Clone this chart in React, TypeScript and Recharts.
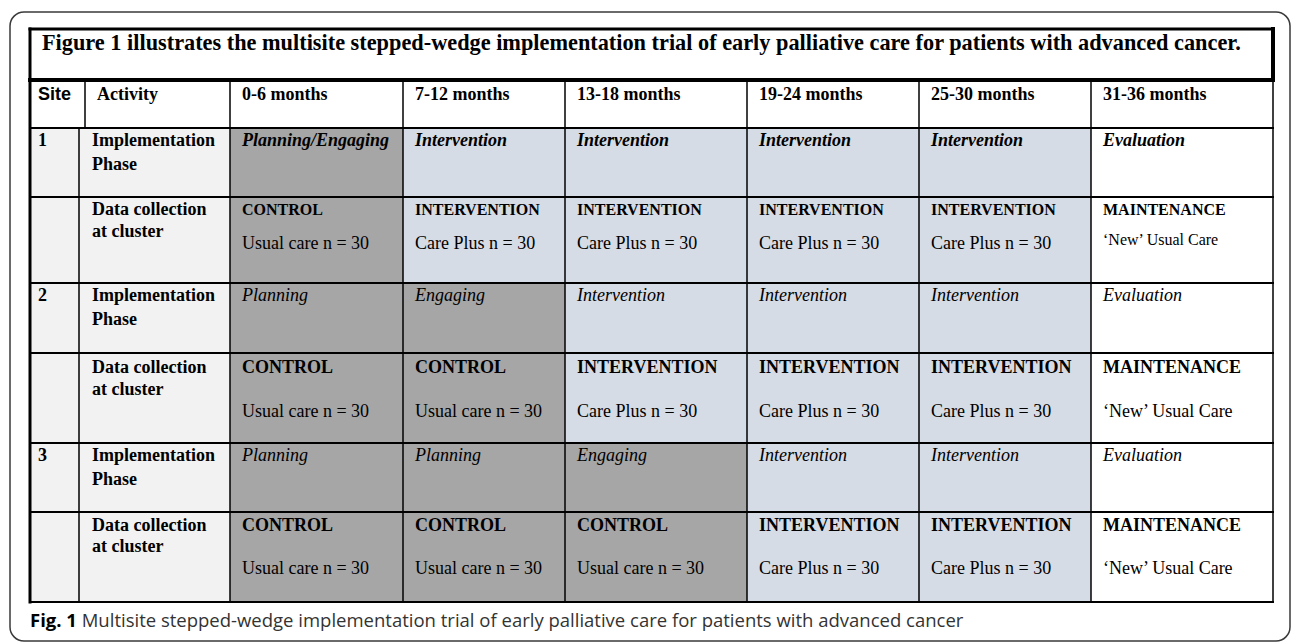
import React from 'react';
import { ComposedChart, XAxis, YAxis, ReferenceArea, ReferenceLine, Scatter } from 'recharts';

// ---------- content ----------
const title =
  'Figure 1 illustrates the multisite stepped-wedge implementation trial of early palliative care for patients with advanced cancer.';
const captionLead = 'Fig. 1';
const captionText =
  'Multisite stepped-wedge implementation trial of early palliative care for patients with advanced cancer';
const headerSite = 'Site';
const headerActivity = 'Activity';
const periods = ['0-6 months', '7-12 months', '13-18 months', '19-24 months', '25-30 months', '31-36 months'];
const sites = ['1', '2', '3'];
const activityImpl = ['Implementation', 'Phase'];
const activityData = ['Data collection', 'at cluster'];
const phasesSite1 = ['Planning/Engaging', 'Intervention', 'Intervention', 'Intervention', 'Intervention', 'Evaluation'];
const phasesSite2 = ['Planning', 'Engaging', 'Intervention', 'Intervention', 'Intervention', 'Evaluation'];
const phasesSite3 = ['Planning', 'Planning', 'Engaging', 'Intervention', 'Intervention', 'Evaluation'];
const armsSite1 = ['CONTROL', 'INTERVENTION', 'INTERVENTION', 'INTERVENTION', 'INTERVENTION', 'MAINTENANCE'];
const armsSite2 = ['CONTROL', 'CONTROL', 'INTERVENTION', 'INTERVENTION', 'INTERVENTION', 'MAINTENANCE'];
const armsSite3 = ['CONTROL', 'CONTROL', 'CONTROL', 'INTERVENTION', 'INTERVENTION', 'MAINTENANCE'];
const armDetail: Record<string, string> = {
  CONTROL: 'Usual care n = 30',
  INTERVENTION: 'Care Plus n = 30',
  MAINTENANCE: '\u2018New\u2019 Usual Care',
};

// ---------- layout & style (kept separate from content) ----------
const W = 1292;
const H = 643;
const COL = [30, 79, 230, 403, 565, 747, 919, 1091, 1273];
const HEADER_SPLIT = 85;
const TITLE_TOP = 29;
const TITLE_BOTTOM = 80;
const HEADER_BOTTOM = 128;
const ROWS = [128, 197, 283, 353, 443, 512, 602]; // impl/data row edges per site
const IMPL_L1 = [18, 18, 18];
const IMPL_L2 = [42, 42, 42];
const DATA_L1 = [18, 20, 19];
const DATA_L2 = [40, 42, 40];
const DATA_CARE = [52, 64, 62];

const DARK = '#a6a6a6';
const BLUE = '#d6dce5';
const LIGHT = '#f2f2f2';
const WHITE = '#ffffff';
const SERIF = '"Liberation Serif", "Times New Roman", serif';
const SANS = '"Liberation Sans", Arial, sans-serif';
const CAPTION_FONT = '"Open Sans", "Noto Sans", sans-serif';

const phaseFill = (p: string) => (p === 'Intervention' ? BLUE : p === 'Evaluation' ? WHITE : DARK);
const armFill = (a: string) => (a === 'INTERVENTION' ? BLUE : a === 'MAINTENANCE' ? WHITE : DARK);

const phases = [phasesSite1, phasesSite2, phasesSite3];
const arms = [armsSite1, armsSite2, armsSite3];

type Cell = { x1: number; x2: number; y1: number; y2: number; fill: string };
type Txt = {
  x: number;
  y: number;
  text: string;
  size: number;
  weight?: string;
  italic?: boolean;
  family?: string;
  color?: string;
  lead?: string;
};

const cells: Cell[] = [];
cells.push({ x1: COL[0], x2: COL[2], y1: HEADER_BOTTOM, y2: ROWS[6], fill: LIGHT });
sites.forEach((_, s) => {
  const iTop = ROWS[s * 2];
  const dTop = ROWS[s * 2 + 1];
  const dBot = ROWS[s * 2 + 2];
  periods.forEach((__, c) => {
    cells.push({ x1: COL[c + 2], x2: COL[c + 3], y1: iTop, y2: dTop, fill: phaseFill(phases[s][c]) });
    cells.push({ x1: COL[c + 2], x2: COL[c + 3], y1: dTop, y2: dBot, fill: armFill(arms[s][c]) });
  });
});

const texts: Txt[] = [];
texts.push({ x: 42, y: 50, text: title, size: 22.3, weight: 'bold' });
texts.push({ x: 38, y: 100, text: headerSite, size: 18, weight: 'bold', family: SANS });
texts.push({ x: 97, y: 100, text: headerActivity, size: 18, weight: 'bold' });
periods.forEach((p, c) => texts.push({ x: COL[c + 2] + 12, y: 100, text: p, size: 18, weight: 'bold' }));
sites.forEach((site, s) => {
  const iTop = ROWS[s * 2];
  const dTop = ROWS[s * 2 + 1];
  texts.push({ x: 38, y: iTop + IMPL_L1[s], text: site, size: 18, weight: 'bold' });
  texts.push({ x: 92, y: iTop + IMPL_L1[s], text: activityImpl[0], size: 18, weight: 'bold' });
  texts.push({ x: 92, y: iTop + IMPL_L2[s], text: activityImpl[1], size: 18, weight: 'bold' });
  texts.push({ x: 92, y: dTop + DATA_L1[s], text: activityData[0], size: 18, weight: 'bold' });
  texts.push({ x: 92, y: dTop + DATA_L2[s], text: activityData[1], size: 18, weight: 'bold' });
  periods.forEach((__, c) => {
    const x = COL[c + 2] + 12;
    texts.push({
      x,
      y: iTop + IMPL_L1[s],
      text: phases[s][c],
      size: 18,
      weight: s === 0 ? 'bold' : 'normal',
      italic: true,
    });
    const a = arms[s][c];
    texts.push({ x, y: dTop + DATA_L1[s], text: a, size: s === 0 ? 16 : 18, weight: 'bold' });
    texts.push({
      x,
      y: dTop + DATA_CARE[s] - (s === 0 && a === 'MAINTENANCE' ? 4 : 0),
      text: armDetail[a],
      size: s === 0 && a === 'MAINTENANCE' ? 16 : 18,
    });
  });
});
texts.push({ x: 30, y: 627, text: captionText, lead: captionLead, size: 18.5, family: CAPTION_FONT, color: '#333333' });

type Seg = { a: [number, number]; b: [number, number]; w: number };
const segs: Seg[] = [];
// title box
segs.push({ a: [COL[0], TITLE_TOP], b: [COL[8], TITLE_TOP], w: 3 });
segs.push({ a: [COL[8], TITLE_TOP], b: [COL[8], TITLE_BOTTOM], w: 4 });
segs.push({ a: [COL[0], TITLE_BOTTOM], b: [COL[8], TITLE_BOTTOM], w: 4 });
segs.push({ a: [COL[0], TITLE_TOP], b: [COL[0], ROWS[6]], w: 3 });
// table
segs.push({ a: [COL[8], TITLE_BOTTOM], b: [COL[8], ROWS[6]], w: 1.5 });
segs.push({ a: [HEADER_SPLIT, TITLE_BOTTOM], b: [HEADER_SPLIT, HEADER_BOTTOM], w: 1.5 });
segs.push({ a: [COL[1], HEADER_BOTTOM], b: [COL[1], ROWS[6]], w: 1.5 });
for (let i = 2; i < 8; i++) segs.push({ a: [COL[i], TITLE_BOTTOM], b: [COL[i], ROWS[6]], w: 1.5 });
ROWS.forEach((y) => segs.push({ a: [COL[0], y], b: [COL[8], y], w: 2 }));

const TextShape = (props: any) => {
  const d: Txt | undefined = props.payload;
  if (!d || props.cx == null) return null;
  return (
    <text
      x={props.cx}
      y={props.cy}
      fontFamily={d.family || SERIF}
      fontSize={d.size}
      fontWeight={d.weight || 'normal'}
      fontStyle={d.italic ? 'italic' : 'normal'}
      fill={d.color || '#000'}
      style={{ whiteSpace: 'pre' }}
    >
      {d.lead ? (
        <>
          <tspan fontWeight="bold" fill="#000">{d.lead}</tspan>
          <tspan>{' ' + d.text}</tspan>
        </>
      ) : (
        d.text
      )}
    </text>
  );
};

const Frame = (props: any) => (
  <rect
    x={props.x}
    y={props.y}
    width={props.width}
    height={props.height}
    rx={14}
    ry={14}
    fill="none"
    stroke="#3a3a3a"
    strokeWidth={1.5}
  />
);

export default function App() {
  return (
    <div style={{ position: 'absolute', left: 0, top: 0, width: W, height: H, background: '#fff' }}>
      <ComposedChart width={W} height={H} margin={{ top: 0, right: 0, bottom: 0, left: 0 }}>
        <XAxis type="number" dataKey="x" domain={[0, W]} allowDataOverflow hide />
        <YAxis type="number" dataKey="y" domain={[0, H]} allowDataOverflow reversed hide />
        <ReferenceArea x1={10} x2={1290} y1={12} y2={641} shape={<Frame />} ifOverflow="visible" />
        {cells.map((c, i) => (
          <ReferenceArea
            key={'c' + i}
            x1={c.x1}
            x2={c.x2}
            y1={c.y1}
            y2={c.y2}
            fill={c.fill}
            fillOpacity={1}
            stroke="none"
            ifOverflow="visible"
          />
        ))}
        {segs.map((s, i) => (
          <ReferenceLine
            key={'s' + i}
            segment={[
              { x: s.a[0], y: s.a[1] },
              { x: s.b[0], y: s.b[1] },
            ]}
            stroke="#000"
            strokeWidth={s.w}
            strokeLinecap="square"
            ifOverflow="visible"
          />
        ))}
        <Scatter data={texts} shape={TextShape} isAnimationActive={false} />
      </ComposedChart>
    </div>
  );
}
